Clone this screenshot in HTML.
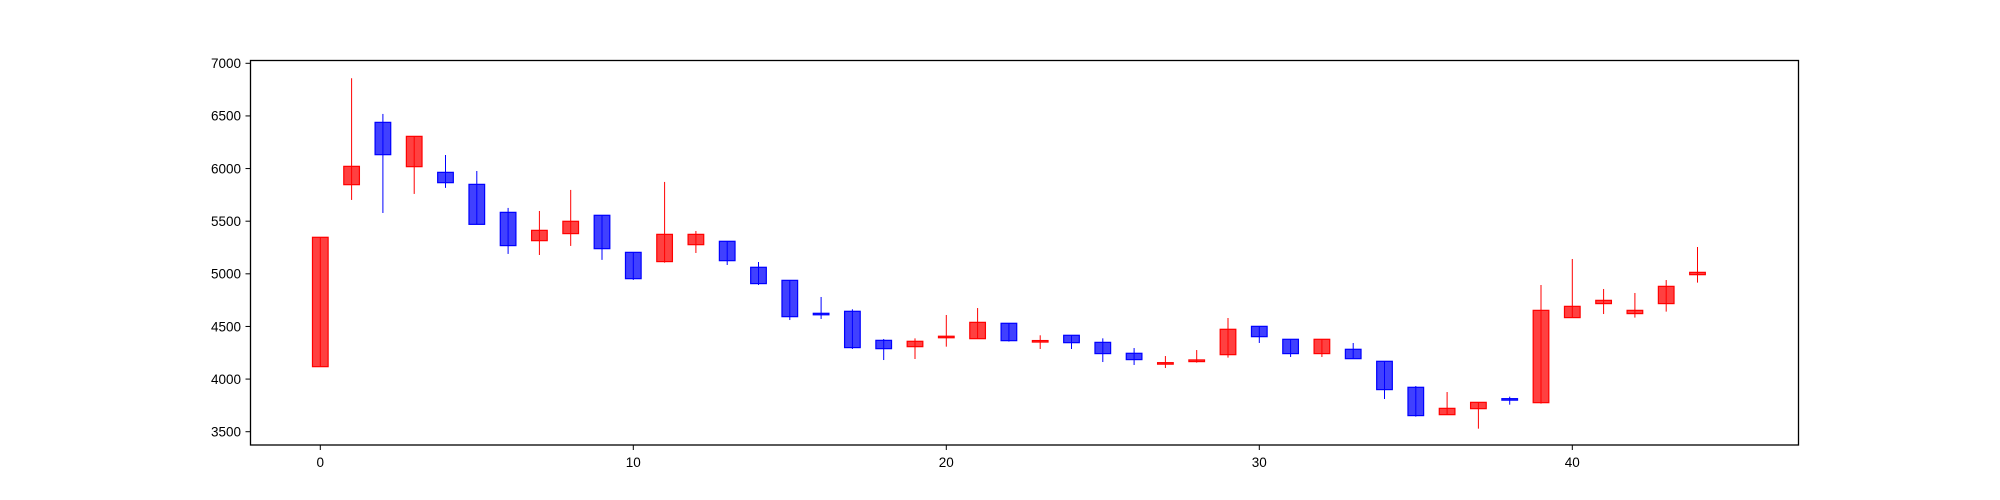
<!DOCTYPE html>
<html><head><meta charset="utf-8"><style>
html,body{margin:0;padding:0;background:#fff;}
svg{display:block;font-family:"Liberation Sans","DejaVu Sans",sans-serif;}
</style></head><body>
<svg id="chart" width="2000" height="500" viewBox="0 0 2000 500" xmlns="http://www.w3.org/2000/svg">
<rect x="0" y="0" width="2000" height="500" fill="#fff"/>
<g id="plot"></g>
<rect x="250.5" y="60.5" width="1548" height="384.5" fill="none" stroke="#000" stroke-width="1.3"/>
<g id="axes"></g>
</svg>
<script>
const opens  = [4118,5847,6439,6018,5964,5850,5584,5315,5382,5556,5204,5116,5277,5309,5062,4938,4625,4644,4368,4308,4397,4384,4530,4362,4416,4349,4245,4146,4166,4232,4501,4378,4242,4283,4169,3922,3662,3719,3814,3776,4584,4717,4622,4717,4992];
const closes = [5347,6021,6132,6306,5866,5470,5268,5413,5499,5239,4954,5375,5375,5125,4907,4593,4620,4299,4289,4359,4407,4539,4365,4366,4346,4242,4185,4156,4182,4473,4403,4242,4378,4194,3900,3653,3722,3779,3801,4653,4691,4748,4653,4881,5014];
const highs  = [5347,6858,6519,6306,6129,5977,5626,5597,5797,5556,5204,5873,5407,5309,5112,4938,4780,4663,4381,4387,4609,4675,4530,4416,4416,4387,4295,4219,4276,4580,4501,4378,4378,4343,4169,3934,3877,3779,3833,4894,5141,4856,4818,4941,5255];
const lows   = [4118,5702,5578,5759,5816,5470,5189,5179,5265,5132,4942,5106,5198,5084,4894,4561,4571,4286,4181,4191,4308,4384,4356,4286,4286,4162,4134,4105,4156,4204,4343,4210,4210,4194,3811,3643,3662,3529,3757,3767,4584,4618,4584,4641,4916];
const yTicks = [3500,4000,4500,5000,5500,6000,6500,7000];
const xTicks = [0,10,20,30,40];

const NS="http://www.w3.org/2000/svg";
function X(v){return 320.3+v*31.3;}
function Y(v){return 63.3+(7000-v)*0.10526;}
function mk(t,a,p){const e=document.createElementNS(NS,t);for(const k in a)e.setAttribute(k,a[k]);p.appendChild(e);return e;}
const plot=document.getElementById('plot'), axes=document.getElementById('axes');
const bw=0.5*31.3;
for(let i=0;i<opens.length;i++){
  const up=closes[i]>=opens[i];
  const col=up?'#ff0000':'#0000ff';
  const fill=up?'rgba(255,0,0,0.75)':'rgba(0,0,255,0.75)';
  const g=mk('g',{},plot);
  
  
  const top=Y(Math.max(opens[i],closes[i])), bot=Y(Math.min(opens[i],closes[i]));
  const r=mk('rect',{x:X(i)-bw/2,y:top,width:bw,height:Math.max(bot-top,1.5),fill:fill,stroke:col,'stroke-width':1.2},g);
  
  
  const w=mk('line',{x1:X(i),x2:X(i),y1:Y(highs[i]),y2:Y(lows[i]),stroke:col,'stroke-width':1},g);
  
  
}
yTicks.forEach(v=>{
  const l=mk('line',{x1:245.5,x2:250.5,y1:Y(v),y2:Y(v),stroke:'#000','stroke-width':1},axes);
  
  
  const t=mk('text',{x:241,y:Y(v)+4.8,'text-anchor':'end','font-size':'13.5'},axes);
  
  
  t.textContent=v;
});
xTicks.forEach(v=>{
  const l=mk('line',{x1:X(v),x2:X(v),y1:445,y2:450,stroke:'#000','stroke-width':1},axes);
  
  
  const t=mk('text',{x:X(v),y:467,'text-anchor':'middle','font-size':'13.5'},axes);
  
  
  t.textContent=v;
});
</script>
</body></html>
